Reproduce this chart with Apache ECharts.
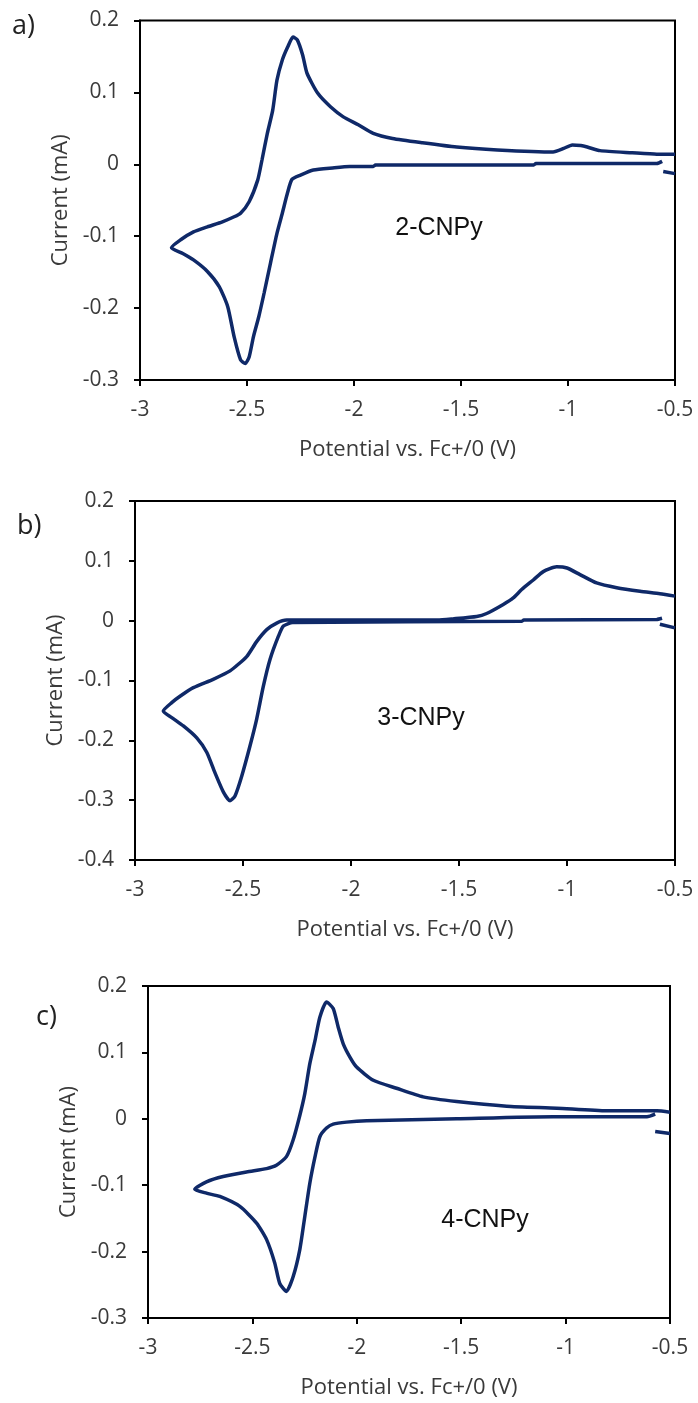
<!DOCTYPE html>
<html>
<head>
<meta charset="utf-8">
<script src="https://cdn.jsdelivr.net/npm/echarts@6/dist/echarts.min.js"></script>
<style>
html,body{margin:0;padding:0;background:#fff;}
#chart{width:698px;height:1403px;}
</style>
</head>
<body>
<div id="chart"></div>
<script>
// ---- Data (Potential V vs Fc+/0, Current mA), in scan order ----
var xTicksMin = -3, xTicksMax = -0.5, xStep = 0.5;
var panelLetters = ['a)', 'b)', 'c)'];
var compoundNames = ['2-CNPy', '3-CNPy', '4-CNPy'];
var yRanges = [[-0.3, 0.2], [-0.4, 0.2], [-0.3, 0.2]];

var cvA = [
  [-0.56,0.004],[-0.585,0.001],[-1.15,0.001],[-1.16,-0.001],[-1.9,-0.001],[-1.91,-0.003],[-2.02,-0.003],
  [-2.1,-0.005],[-2.19,-0.008],[-2.25,-0.015],[-2.29,-0.021],[-2.31,-0.039],[-2.335,-0.068],[-2.36,-0.096],
  [-2.39,-0.137],[-2.42,-0.179],[-2.445,-0.212],[-2.47,-0.24],[-2.49,-0.268],[-2.508,-0.277],[-2.53,-0.272],
  [-2.56,-0.24],[-2.59,-0.198],[-2.63,-0.17],[-2.685,-0.149],[-2.75,-0.133],[-2.80,-0.124],[-2.853,-0.116],
  [-2.81,-0.105],[-2.75,-0.094],[-2.685,-0.087],[-2.615,-0.08],[-2.56,-0.073],[-2.53,-0.068],[-2.49,-0.052],
  [-2.45,-0.022],[-2.43,0.006],[-2.405,0.043],[-2.38,0.075],[-2.36,0.117],[-2.335,0.145],[-2.31,0.163],
  [-2.285,0.177],[-2.265,0.173],[-2.24,0.152],[-2.22,0.127],[-2.17,0.099],[-2.11,0.08],[-2.05,0.066],
  [-1.98,0.055],[-1.91,0.043],[-1.82,0.036],[-1.68,0.03],[-1.52,0.024],[-1.33,0.02],[-1.07,0.017],
  [-1.02,0.022],[-0.98,0.027],[-0.94,0.026],[-0.91,0.024],[-0.85,0.019],[-0.70,0.016],[-0.585,0.014],[-0.5,0.014]
];
var startA = [[-0.555,-0.010],[-0.5,-0.013]];

var cvB = [
  [-0.56,0.004],[-0.585,0.002],[-1.2,0.001],[-1.21,-0.001],[-2.27,-0.003],[-2.313,-0.009],[-2.336,-0.026],
  [-2.375,-0.065],[-2.406,-0.11],[-2.437,-0.165],[-2.468,-0.21],[-2.506,-0.26],[-2.537,-0.293],[-2.56,-0.301],
  [-2.59,-0.287],[-2.63,-0.254],[-2.668,-0.22],[-2.714,-0.196],[-2.776,-0.176],[-2.83,-0.162],[-2.869,-0.151],
  [-2.83,-0.137],[-2.79,-0.126],[-2.73,-0.112],[-2.638,-0.098],[-2.56,-0.084],[-2.483,-0.06],[-2.437,-0.035],
  [-2.39,-0.015],[-2.344,-0.004],[-2.298,0.001],[-2.24,0.001],[-1.6,0.001],[-1.528,0.003],[-1.418,0.007],
  [-1.372,0.012],[-1.295,0.027],[-1.249,0.038],[-1.21,0.052],[-1.156,0.068],[-1.11,0.082],[-1.048,0.09],
  [-1.0,0.088],[-0.94,0.077],[-0.863,0.063],[-0.77,0.055],[-0.662,0.049],[-0.57,0.045],[-0.5,0.041]
];
var startB = [[-0.57,-0.006],[-0.5,-0.012]];

var cvC = [
  [-0.571,0.007],[-0.61,0.003],[-1.06,0.003],[-1.52,0.0],[-1.953,-0.003],[-2.049,-0.005],[-2.113,-0.008],
  [-2.145,-0.014],[-2.177,-0.027],[-2.2,-0.057],[-2.225,-0.097],[-2.249,-0.147],[-2.273,-0.197],[-2.305,-0.238],
  [-2.337,-0.26],[-2.369,-0.248],[-2.393,-0.217],[-2.432,-0.182],[-2.48,-0.157],[-2.56,-0.132],[-2.656,-0.117],
  [-2.72,-0.112],[-2.776,-0.106],
  [-2.72,-0.095],[-2.64,-0.087],[-2.528,-0.08],[-2.432,-0.075],[-2.385,-0.07],[-2.337,-0.057],[-2.305,-0.032],
  [-2.273,0.005],[-2.249,0.038],[-2.225,0.083],[-2.2,0.118],[-2.177,0.153],[-2.145,0.176],[-2.113,0.166],
  [-2.089,0.138],[-2.065,0.113],[-2.033,0.093],[-2.001,0.078],[-1.921,0.058],[-1.81,0.046],[-1.682,0.033],
  [-1.522,0.026],[-1.282,0.019],[-1.042,0.016],[-0.803,0.012],[-0.563,0.012],[-0.5,0.01]
];
var startC = [[-0.571,-0.019],[-0.5,-0.022]];

var cvData = [cvA, cvB, cvC];
var startData = [startA, startB, startC];

// ---- Layout ----
var grids = [
  {left:140, right:23, top:20.5, height:359.5},
  {left:135, right:23, top:501, height:359},
  {left:148, right:28, top:986, height:332}
];
var lineColor = '#0f2968';
var labelFont = '"Open Sans", sans-serif';

var xAxes = [], yAxes = [], series = [];
for (var i = 0; i < 3; i++) {
  xAxes.push({
    type:'value', gridIndex:i, min:xTicksMin, max:xTicksMax, interval:xStep,
    name:'Potential vs. Fc+/0 (V)', nameLocation:'middle', nameGap:59,
    nameTextStyle:{fontFamily:labelFont, fontSize:22, color:'#3a3a3a'},
    axisLine:{onZero:false, lineStyle:{color:'#000', width:2}},
    axisTick:{inside:false, length:6, lineStyle:{color:'#000', width:2}},
    axisLabel:{fontFamily:labelFont, fontSize:21, color:'#3a3a3a', margin:20},
    splitLine:{show:false}
  });
  yAxes.push({
    type:'value', gridIndex:i, min:yRanges[i][0], max:yRanges[i][1], interval:0.1,
    name:'Current (mA)', nameLocation:'middle', nameGap:66, nameRotate:90,
    nameTextStyle:{fontFamily:labelFont, fontSize:22, color:'#3a3a3a'},
    axisLine:{onZero:false, lineStyle:{color:'#000', width:2}},
    axisTick:{inside:false, length:6, lineStyle:{color:'#000', width:2}},
    axisLabel:{fontFamily:labelFont, fontSize:21, color:'#3a3a3a', margin:21,
      formatter:function(v){ return String(Math.round(v*10)/10); }},
    splitLine:{show:false}
  });
  series.push({
    type:'line', xAxisIndex:i, yAxisIndex:i, data:cvData[i], showSymbol:false,
    smooth:0.2, lineStyle:{color:lineColor, width:3.5}, silent:true, animation:false
  });
  series.push({
    type:'line', xAxisIndex:i, yAxisIndex:i, data:startData[i], showSymbol:false,
    lineStyle:{color:lineColor, width:3.5}, silent:true, animation:false
  });
}

var chart = echarts.init(document.getElementById('chart'), null, {renderer:'canvas'});
chart.setOption({
  animation:false,
  backgroundColor:'#fff',
  grid: grids.map(function(g){ return Object.assign({show:true, borderColor:'#000', borderWidth:2, containLabel:false}, g); }),
  xAxis:xAxes,
  yAxis:yAxes,
  series:series,
  graphic:[
    {type:'text', left:12, top:13, style:{text:panelLetters[0], font:'27px "Open Sans"', fill:'#222'}},
    {type:'text', left:17, top:513, style:{text:panelLetters[1], font:'27px "Open Sans"', fill:'#222'}},
    {type:'text', left:36, top:1004, style:{text:panelLetters[2], font:'27px "Open Sans"', fill:'#222'}},
    {type:'text', x:439, y:228, style:{text:compoundNames[0], font:'25px "Liberation Sans"', fill:'#111', textAlign:'center', textVerticalAlign:'middle'}},
    {type:'text', x:421, y:718, style:{text:compoundNames[1], font:'25px "Liberation Sans"', fill:'#111', textAlign:'center', textVerticalAlign:'middle'}},
    {type:'text', x:485, y:1220, style:{text:compoundNames[2], font:'25px "Liberation Sans"', fill:'#111', textAlign:'center', textVerticalAlign:'middle'}}
  ]
});
</script>
</body>
</html>
